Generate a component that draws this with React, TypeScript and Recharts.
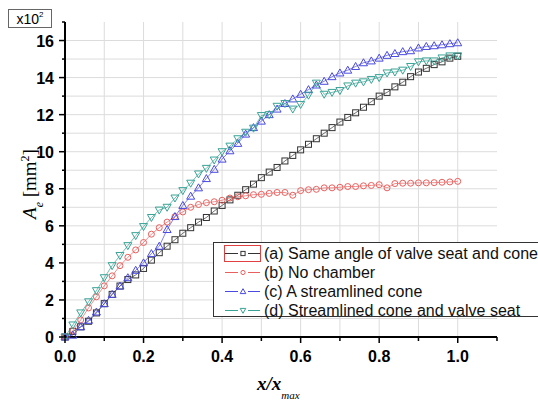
import React from "react";
import { LineChart, Line, XAxis, YAxis, CartesianGrid } from "recharts";

// x / x_max positions of the samples
const xRatio = [
  0, 0.02, 0.04, 0.06, 0.08, 0.1, 0.12, 0.14, 0.16, 0.18, 0.2, 0.22, 0.24, 0.26, 0.28, 0.3, 0.32,
  0.34, 0.36, 0.38, 0.4, 0.42, 0.44, 0.46, 0.48, 0.5, 0.52, 0.54, 0.56, 0.58, 0.6, 0.62, 0.64, 0.66,
  0.68, 0.7, 0.72, 0.74, 0.76, 0.78, 0.8, 0.82, 0.84, 0.86, 0.88, 0.9, 0.92, 0.94, 0.96, 0.98, 1.0,
];

// A_e in units of 10^2 mm^2
const sameAngle = [
  0, 0.3, 0.55, 0.85, 1.3, 1.8, 2.3, 2.75, 3.1, 3.35, 3.7, 4.15, 4.55, 4.9, 5.25, 5.6, 5.9, 6.2,
  6.45, 6.8, 7.1, 7.4, 7.65, 7.95, 8.25, 8.6, 8.9, 9.15, 9.5, 9.8, 10.1, 10.4, 10.7, 11.0, 11.3,
  11.6, 11.85, 12.1, 12.4, 12.7, 13.0, 13.2, 13.5, 13.75, 14.05, 14.3, 14.5, 14.7, 14.85, 15.05, 15.15,
];
const noChamber = [
  0, 0.33, 0.92, 1.57, 2.17, 2.76, 3.3, 3.85, 4.3, 4.7, 5.1, 5.55, 5.9, 6.2, 6.5, 6.75, 7.0, 7.15,
  7.25, 7.3, 7.38, 7.5, 7.57, 7.62, 7.68, 7.7, 7.75, 7.8, 7.8, 7.65, 7.9, 7.95, 7.97, 8.05, 8.05,
  8.08, 8.12, 8.12, 8.16, 8.18, 8.22, 8.05, 8.28, 8.3, 8.3, 8.32, 8.32, 8.33, 8.35, 8.37, 8.4,
];
const streamCone = [
  0, 0.1, 0.55, 0.9, 1.35, 1.8, 2.3, 2.75, 3.2, 3.6, 4.0, 4.5, 4.9, 5.8, 6.5, 7.1, 7.6, 8.05, 8.55,
  9.05, 9.6, 10.05, 10.45, 10.95, 11.3, 11.65, 12.0, 12.3, 12.6, 12.85, 13.1, 13.35, 13.6, 13.8,
  14.05, 14.25, 14.4, 14.6, 14.8, 14.9, 15.05, 15.2, 15.3, 15.4, 15.45, 15.6, 15.68, 15.72, 15.77,
  15.83, 15.88,
];
const streamConeSeat = [
  0, 0.65, 1.3, 1.9, 2.5, 3.2, 3.85, 4.4, 4.93, 5.47, 5.96, 6.45, 6.85, 7.0, 7.5, 7.9, 8.3, 8.8,
  9.1, 9.55, 10.0, 10.3, 10.7, 11.05, 11.27, 11.95, 12.0, 12.45, 12.6, 12.3, 12.55, 13.05, 13.7,
  13.1, 13.2, 13.3, 13.55, 13.7, 13.77, 13.9, 14.0, 14.25, 14.3, 14.4, 14.6, 14.85, 14.9, 14.9,
  15.06, 15.17, 15.17,
];

const xTicks = [0, 0.1, 0.2, 0.3, 0.4, 0.5, 0.6, 0.7, 0.8, 0.9, 1.0, 1.1];
const yTicks = [0, 1, 2, 3, 4, 5, 6, 7, 8, 9, 10, 11, 12, 13, 14, 15, 16, 17];
const xGrid = [0.1, 0.2, 0.3, 0.4, 0.5, 0.6, 0.7, 0.8, 0.9, 1.0];
const yGrid = [1, 2, 3, 4, 5, 6, 7, 8, 9, 10, 11, 12, 13, 14, 15, 16];

const data = xRatio.map((x, i) => ({
  x,
  a: sameAngle[i],
  b: noChamber[i],
  c: streamCone[i],
  d: streamConeSeat[i],
}));

const series = [
  { key: "a", name: "(a) Same angle of valve seat and cone", color: "#333333", shape: "square" },
  { key: "b", name: "(b) No chamber", color: "#e8605e", shape: "circle" },
  { key: "c", name: "(c) A streamlined cone", color: "#4a4ae0", shape: "up" },
  { key: "d", name: "(d) Streamlined cone and valve seat", color: "#3aa396", shape: "down" },
];

const SANS = "'Liberation Sans', Arial, sans-serif";
const SERIF = "'Liberation Serif', 'Times New Roman', serif";

function Marker({ cx, cy, shape, color, size = 1 }: any) {
  if (cx == null || cy == null) return null;
  const s = size;
  if (shape === "square")
    return <rect x={cx - 3 * s} y={cy - 3 * s} width={6 * s} height={6 * s} fill="none" stroke={color} strokeWidth={1} />;
  if (shape === "circle") return <circle cx={cx} cy={cy} r={3 * s} fill="none" stroke={color} strokeWidth={1} />;
  if (shape === "up")
    return (
      <path
        d={`M${cx},${cy - 4 * s} L${cx + 4 * s},${cy + 3 * s} L${cx - 4 * s},${cy + 3 * s} Z`}
        fill="none"
        stroke={color}
        strokeWidth={1}
      />
    );
  return (
    <path
      d={`M${cx},${cy + 4 * s} L${cx + 4 * s},${cy - 3 * s} L${cx - 4 * s},${cy - 3 * s} Z`}
      fill="none"
      stroke={color}
      strokeWidth={1}
    />
  );
}

function XTick(props: any) {
  const { x, y, payload } = props;
  const v = payload.value;
  const major = Math.round(v * 10) % 2 === 0;
  return (
    <g>
      <line x1={x} x2={x} y1={y} y2={y + (major ? 6 : 4)} stroke="#000" strokeWidth={1.5} />
      {major && v < 1.05 && (
        <text x={x} y={y + 25} textAnchor="middle" fontFamily={SANS} fontWeight="bold" fontSize={16} fill="#000">
          {v.toFixed(1)}
        </text>
      )}
    </g>
  );
}

function YTick(props: any) {
  const { x, y, payload } = props;
  const v = payload.value;
  const major = v % 2 === 0;
  return (
    <g>
      <line x1={x} x2={x - (major ? 6 : 3)} y1={y} y2={y} stroke="#000" strokeWidth={1.5} />
      {major && v <= 16 && (
        <text x={x - 11} y={y + 6} textAnchor="end" fontFamily={SANS} fontWeight="bold" fontSize={16} fill="#000">
          {v}
        </text>
      )}
    </g>
  );
}

function LegendBox() {
  return (
    <div
      style={{
        position: "absolute",
        left: 213,
        top: 242,
        width: 325,
        height: 75,
        border: "1px solid #333",
        borderRight: "none",
        background: "#fff",
        boxSizing: "border-box",
        paddingTop: 1,
      }}
    >
      {series.map((s, i) => (
        <div key={s.key} style={{ display: "flex", alignItems: "center", height: 19 }}>
          <svg width={50} height={19} style={{ display: "block" }}>
            {i === 0 && <rect x={10.5} y={1.5} width={36} height={16} fill="none" stroke="#e04040" strokeWidth={1} />}
            <line x1={11} x2={46} y1={9.5} y2={9.5} stroke={s.color} strokeWidth={1} />
            <rect x={24} y={5} width={10} height={9} fill="#fff" />
            <Marker cx={29} cy={9.5} shape={s.shape} color={s.color} size={0.7} />
          </svg>
          <span style={{ fontFamily: SANS, fontSize: 16, color: "#111", whiteSpace: "nowrap" }}>{s.name}</span>
        </div>
      ))}
    </div>
  );
}

export default function App() {
  return (
    <div style={{ position: "absolute", left: 0, top: 0, width: 538, height: 402, background: "#fff" }}>
      <LineChart width={538} height={402} data={data} margin={{ top: 22, right: 41, left: 8, bottom: 35 }}>
        <CartesianGrid stroke="#dcdcdc" strokeWidth={1} horizontalValues={yGrid} verticalValues={xGrid} />
        <XAxis
          type="number"
          dataKey="x"
          domain={[0, 1.1]}
          ticks={xTicks}
          interval={0}
          tick={<XTick />}
          tickLine={false}
          tickSize={0}
          tickMargin={0}
          axisLine={{ stroke: "#000", strokeWidth: 2 }}
          height={30}
        />
        <YAxis
          type="number"
          domain={[0, 17]}
          ticks={yTicks}
          interval={0}
          tick={<YTick />}
          tickLine={false}
          tickSize={0}
          tickMargin={0}
          axisLine={{ stroke: "#000", strokeWidth: 2 }}
          width={57}
        />
        {series.map((s) => (
          <Line
            key={s.key}
            type="linear"
            dataKey={s.key}
            name={s.name}
            stroke={s.color}
            strokeWidth={0.7}
            isAnimationActive={false}
            dot={(p: any) => (
              <g key={`${s.key}-${p.index}`}>
                <Marker cx={p.cx} cy={p.cy} shape={s.shape} color={s.color} />
              </g>
            )}
            activeDot={false}
          />
        ))}
      </LineChart>

      <div
        style={{
          position: "absolute",
          left: 8,
          top: 9,
          width: 44,
          height: 19,
          border: "1px solid #666",
          boxSizing: "border-box",
          fontFamily: SANS,
          fontSize: 14,
          lineHeight: "18px",
          textAlign: "center",
          color: "#000",
        }}
      >
        x10<sup style={{ fontSize: 8, verticalAlign: "top", lineHeight: "10px" }}>2</sup>
      </div>

      <svg width={538} height={402} style={{ position: "absolute", left: 0, top: 0, pointerEvents: "none" }}>
        <text transform="translate(36,184) rotate(-90)" textAnchor="middle" fontFamily={SERIF} fontSize={19} fill="#000">
          <tspan fontStyle="italic">A</tspan>
          <tspan fontStyle="italic" fontSize={12} baselineShift="sub">e</tspan>
          <tspan> [mm</tspan>
          <tspan fontSize={12} baselineShift="super">2</tspan>
          <tspan>]</tspan>
        </text>
        <text x={257} y={390} fontFamily={SERIF} fill="#000">
          <tspan fontSize={19} fontWeight="bold" fontStyle="italic">x/x</tspan>
          <tspan fontSize={11} fontStyle="italic" baselineShift="sub" dy={3}>max</tspan>
        </text>
      </svg>

      <LegendBox />
    </div>
  );
}
